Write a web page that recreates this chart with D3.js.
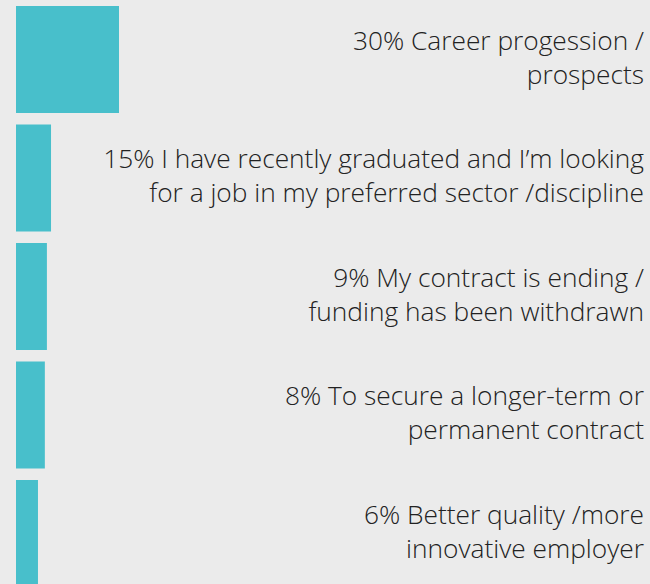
<!DOCTYPE html>
<html>
<head>
<meta charset="utf-8">
<script src="https://cdn.jsdelivr.net/npm/d3@7"></script>
<style>
  body { margin: 0; background: #ebebeb; }
  svg { display: block; }
  .label { font-family: "Open Sans", sans-serif; font-weight: 300; font-size: 26.3px; fill: #222; }
</style>
</head>
<body>
<div id="chart"></div>
<script>
// percentages shown in the labels
var percents = [30, 15, 9, 8, 6];
// bar lengths as drawn in the picture (the 15% bar is drawn short)
var barValues = [30, 10.2, 9, 8.4, 6.4];
var labelLines = [
    ["30% Career progession /", "prospects"],
    ["15% I have recently graduated and I\u2019m looking", "for a job in my preferred sector /discipline"],
    ["9% My contract is ending /", "funding has been withdrawn"],
    ["8% To secure a longer-term or", "permanent contract"],
    ["6% Better quality /more", "innovative employer"]
];

var width = 650, height = 584;

var svg = d3.select("#chart").append("svg")
    .attr("width", width)
    .attr("height", height);

var rows = d3.range(percents.length);

// x scale for bar length
var x = d3.scaleLinear()
    .domain([0, 30])
    .range([0, 103]);

// y scale for rows: step 118.5, bars 107 tall
var y = d3.scaleBand()
    .domain(rows)
    .range([6, 6 + 118.5 * rows.length - 11.5])
    .paddingInner(11.5 / 118.5)
    .paddingOuter(0);

svg.selectAll("rect.bar")
    .data(rows)
    .enter().append("rect")
        .attr("class", "bar")
        .attr("x", 16 + x(0))
        .attr("y", function(i) { return y(i); })
        .attr("width", function(i) { return x(barValues[i]); })
        .attr("height", y.bandwidth())
        .attr("fill", "#48bfcb");

var labels = svg.selectAll("text.label")
    .data(rows)
    .enter().append("text")
        .attr("class", "label")
        .attr("text-anchor", "end")
        .attr("x", 644)
        .attr("y", function(i) { return y(i) + y.bandwidth() / 2 - 10; });

labels.selectAll("tspan")
    .data(function(i) { return labelLines[i]; })
    .enter().append("tspan")
        .attr("x", 644)
        .attr("dy", function(d, j) { return j === 0 ? 0 : 34; })
        .text(function(d) { return d; });
</script>
</body>
</html>
